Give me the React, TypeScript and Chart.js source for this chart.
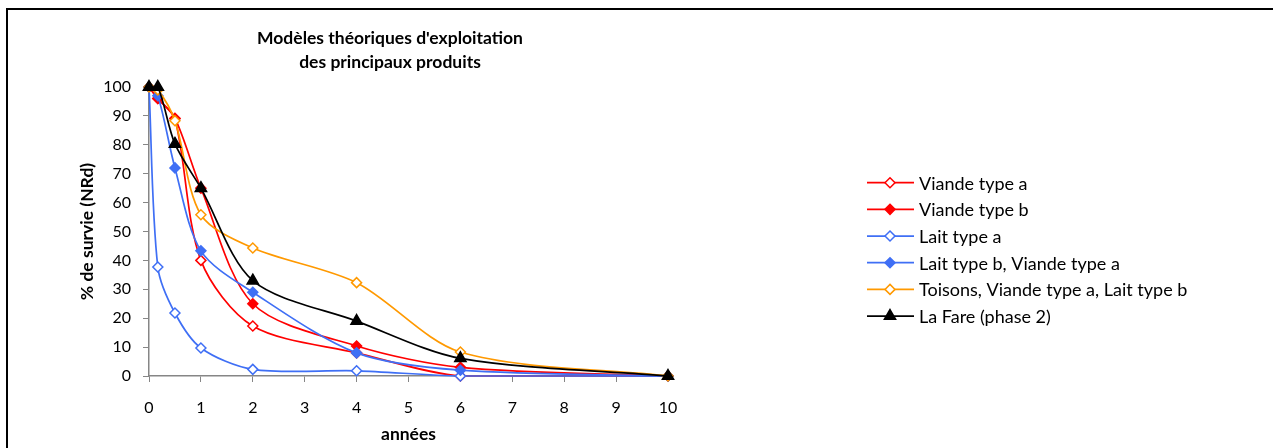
import React, { useEffect, useRef } from "react";
import { Chart, registerables } from "chart.js";

Chart.register(...registerables);

// ---- data ----
const xYears = [0, 0.17, 0.5, 1, 2, 4, 6, 10];
const viandeA = [100, 96, 89, 40, 17.3, 8, 0, 0];
const viandeB = [100, 96, 89.2, 65, 25, 10.4, 3, 0];
const laitA = [100, 37.7, 21.8, 9.7, 2.3, 1.8, 0, 0];
const laitB = [100, 97, 72, 43.3, 29, 8, 2, 0];
const toisons = [100, 99, 88.3, 55.8, 44.3, 32.3, 8.3, 0];
const laFare = [100, 100, 80.3, 65, 33, 19, 6.1, 0];
const seriesNames = [
  "Viande type a",
  "Viande type b",
  "Lait type a",
  "Lait type b, Viande type a",
  "Toisons, Viande type a, Lait type b",
  "La Fare (phase 2)",
];
const titleLines = ["Modèles théoriques d'exploitation", "des principaux produits"];
const xTitle = "années";
const yTitle = "% de survie (NRd)";

const RED = "#FF0000";
const BLUE = "#3F6FF5";
const ORANGE = "#FF9900";
const BLACK = "#000000";
const FONT = "Lato";

export default function App() {
  const ref = useRef<HTMLCanvasElement>(null);

  useEffect(() => {
    const mk = (vals: number[]) => xYears.map((x, i) => ({ x, y: vals[i] }));
    const styles = [
      { c: RED, s: "rectRot", fill: "#FFFFFF", r: 5 },
      { c: RED, s: "rectRot", fill: RED, r: 5 },
      { c: BLUE, s: "rectRot", fill: "#FFFFFF", r: 5 },
      { c: BLUE, s: "rectRot", fill: BLUE, r: 5 },
      { c: ORANGE, s: "rectRot", fill: "#FFFFFF", r: 5 },
      { c: BLACK, s: "triangle", fill: BLACK, r: 6.5 },
    ];
    const values = [viandeA, viandeB, laitA, laitB, toisons, laFare];

    const datasets = values.map((v, i) => ({
      label: seriesNames[i],
      data: mk(v),
      borderColor: styles[i].c,
      backgroundColor: styles[i].fill,
      borderWidth: 1.7,
      pointStyle: styles[i].s as any,
      pointRadius: styles[i].r,
      pointBackgroundColor: styles[i].fill,
      pointBorderColor: styles[i].c,
      pointBorderWidth: 1.5,
      tension: 0.3,
      fill: false,
      clip: false as any,
      order: values.length - 1 - i,
    }));

    const textPlugin = {
      id: "textPlugin",
      afterDraw(chart: any) {
        const ctx = chart.ctx as CanvasRenderingContext2D;
        ctx.save();
        // title
        ctx.fillStyle = "#000";
        ctx.font = `bold 17.5px ${FONT}`;
        ctx.textAlign = "center";
        ctx.textBaseline = "middle";
        ctx.fillText(titleLines[0], 382, 28);
        ctx.fillText(titleLines[1], 382, 52.5);
        // legend
        const y0 = 172.7;
        const dy = 26.67;
        ctx.font = `18px ${FONT}`;
        ctx.textAlign = "left";
        datasets.forEach((d, i) => {
          const y = y0 + i * dy;
          ctx.strokeStyle = d.borderColor;
          ctx.lineWidth = 1.7;
          ctx.beginPath();
          ctx.moveTo(859, y);
          ctx.lineTo(906, y);
          ctx.stroke();
          ctx.fillStyle = d.pointBackgroundColor;
          ctx.strokeStyle = d.pointBorderColor;
          ctx.lineWidth = 1.5;
          ctx.beginPath();
          const r = d.pointRadius;
          if (d.pointStyle === "triangle") {
            ctx.moveTo(882, y - r);
            ctx.lineTo(882 + r * 0.866, y + r * 0.5);
            ctx.lineTo(882 - r * 0.866, y + r * 0.5);
          } else {
            ctx.moveTo(882, y - r);
            ctx.lineTo(882 + r, y);
            ctx.lineTo(882, y + r);
            ctx.lineTo(882 - r, y);
          }
          ctx.closePath();
          ctx.fill();
          ctx.stroke();
          ctx.fillStyle = "#000";
          ctx.fillText(d.label, 911, y + 1);
        });
        ctx.restore();
      },
    };

    const chart = new Chart(ref.current!, {
      type: "line",
      data: { datasets: datasets as any },
      options: {
        animation: false,
        responsive: false,
        layout: { padding: { left: 0, top: 77, right: 1265 - 660, bottom: 0 } },
        scales: {
          x: {
            type: "linear",
            min: 0,
            max: 10,
            ticks: { stepSize: 1, color: "#000", font: { family: FONT, size: 16 }, padding: 16 },
            grid: { display: true, drawOnChartArea: false, tickLength: 6, color: "#868686" },
            border: { color: "#868686", width: 1.5 },
            title: {
              display: true,
              text: xTitle,
              color: "#000",
              font: { family: FONT, size: 17.5, weight: "bold" },
              padding: { top: 0, bottom: 3.5 },
            },
            afterFit: (s: any) => {
              s.height = 438 - 366;
            },
          },
          y: {
            type: "linear",
            min: 0,
            max: 100,
            ticks: { stepSize: 10, color: "#000", font: { family: FONT, size: 16 }, padding: 12 },
            grid: { display: true, drawOnChartArea: false, tickLength: 6, color: "#868686" },
            border: { color: "#868686", width: 1.5 },
            title: {
              display: true,
              text: yTitle,
              color: "#000",
              font: { family: FONT, size: 17.5, weight: "bold" },
              padding: { top: 68.5, bottom: 0 },
            },
            afterFit: (s: any) => {
              s.width = 141;
            },
          },
        },
        plugins: {
          legend: { display: false },
          title: { display: false },
          tooltip: { enabled: false },
        },
      },
      plugins: [textPlugin],
    });
    return () => chart.destroy();
  }, []);

  return (
    <div
      style={{
        position: "absolute",
        left: 6,
        top: 8,
        width: 1267,
        height: 440,
        borderTop: "2px solid #000",
        borderLeft: "2px solid #000",
        boxSizing: "border-box",
        overflow: "hidden",
        background: "#fff",
      }}
    >
      <canvas ref={ref} width={1265} height={438} style={{ display: "block" }} />
    </div>
  );
}
